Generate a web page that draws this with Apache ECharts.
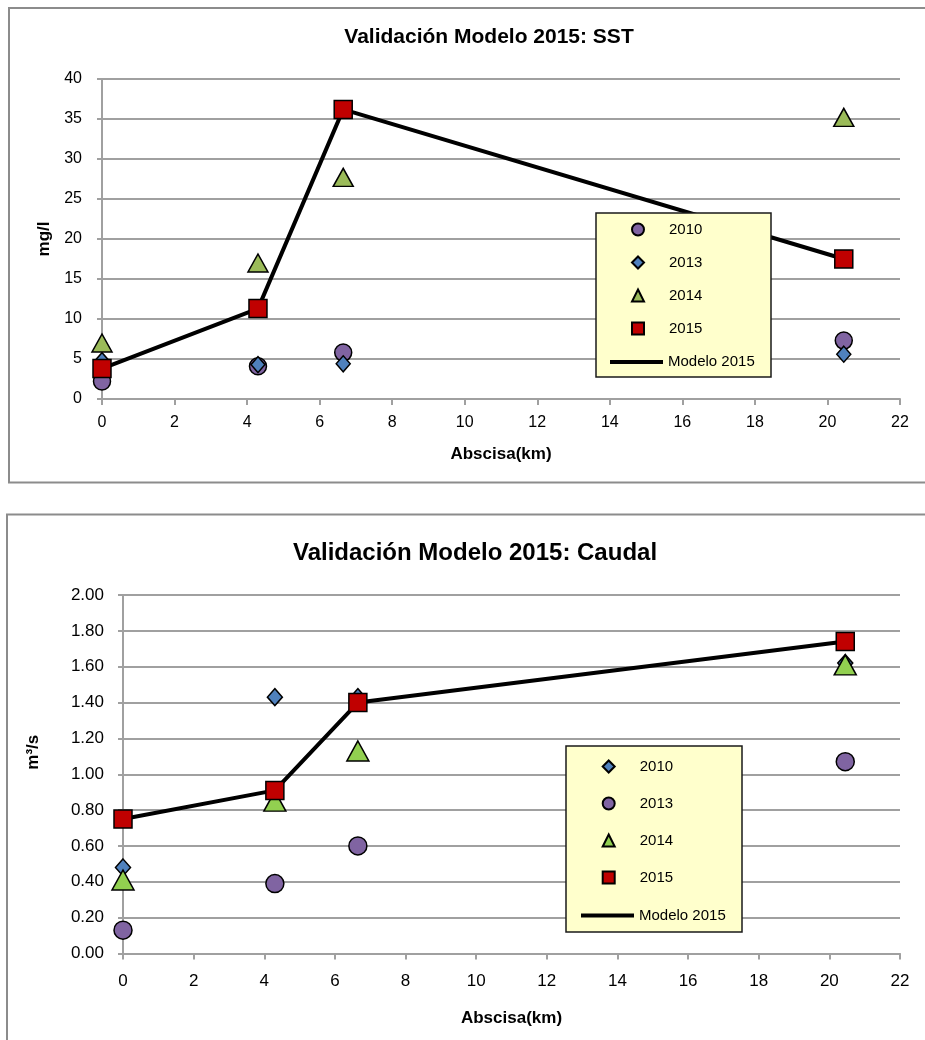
<!DOCTYPE html>
<html>
<head>
<meta charset="utf-8">
<title>Validación Modelo 2015</title>
<script src="https://cdn.jsdelivr.net/npm/echarts@6/dist/echarts.min.js"></script>
<style>
  html, body { margin: 0; padding: 0; background: #ffffff; }
  #chart { width: 925px; height: 1040px; }
</style>
</head>
<body>
<div id="chart"></div>
<script>
// Estaciones de muestreo (abscisa en km)
const abscisa = [0, 4.3, 6.65, 20.45];

// Sólidos suspendidos totales (mg/l)
const sst2010 = [2.2, 4.1, 5.8, 7.3];
const sst2013 = [4.8, 4.3, 4.4, 5.6];
const sst2014 = [7.0, 17.0, 27.7, 35.2];
const sst2015 = [3.8, 11.3, 36.2, 17.5];
const sstModelo = [3.8, 11.3, 36.2, 17.5];

// Caudal (m3/s)
const q2010 = [0.48, 1.43, 1.43, 1.62];
const q2013 = [0.13, 0.39, 0.60, 1.07];
const q2014 = [0.41, 0.85, 1.13, 1.61];
const q2015 = [0.75, 0.91, 1.40, 1.74];
const qModelo = [0.75, 0.91, 1.40, 1.74];

const FONT = "'Liberation Sans', Arial, sans-serif";
const GRID_GRAY = '#a0a0a0';

function pairs(xs, ys) { return xs.map((x, i) => [x, ys[i]]); }

function scatter(name, idx, data, symbol, size, color, z) {
  return {
    type: 'scatter', name: name, xAxisIndex: idx, yAxisIndex: idx,
    data: data, symbol: symbol, symbolSize: size, z: z,
    itemStyle: { color: color, borderColor: '#000', borderWidth: 1.5, opacity: 1 },
    emphasis: { disabled: true }
  };
}

function modelLine(idx, data) {
  return {
    type: 'line', name: 'Modelo 2015', xAxisIndex: idx, yAxisIndex: idx,
    data: data, symbol: 'none', z: 1, color: '#000',
    lineStyle: { color: '#000', width: 4 },
    emphasis: { disabled: true }
  };
}

function xAxis(idx, gridIndex, labelSize, labelMargin, nameGap) {
  return {
    type: 'value', gridIndex: gridIndex, min: 0, max: 22, interval: 2,
    name: 'Abscisa(km)', nameLocation: 'middle', nameGap: nameGap,
    nameTextStyle: { fontFamily: FONT, fontWeight: 'bold', fontSize: 17, color: '#000' },
    axisLine: { show: true, onZero: false, lineStyle: { color: GRID_GRAY, width: 2 } },
    axisTick: { show: true, length: 6, lineStyle: { color: GRID_GRAY, width: 2 } },
    axisLabel: { fontFamily: FONT, fontSize: labelSize, color: '#000', margin: labelMargin },
    splitLine: { show: false }
  };
}

function yAxis(gridIndex, min, max, interval, name, nameGap, labelSize, labelMargin, fmt, namePad) {
  return {
    type: 'value', gridIndex: gridIndex, min: min, max: max, interval: interval,
    name: name, nameLocation: 'middle', nameGap: nameGap, nameRotate: 90,
    nameTextStyle: { fontFamily: FONT, fontWeight: 'bold', fontSize: 17, color: '#000', padding: namePad },
    axisLine: { show: true, lineStyle: { color: GRID_GRAY, width: 2 } },
    axisTick: { show: true, length: 5, lineStyle: { color: GRID_GRAY, width: 2 } },
    axisLabel: { fontFamily: FONT, fontSize: labelSize, color: '#000', margin: labelMargin, formatter: fmt },
    splitLine: { show: true, lineStyle: { color: GRID_GRAY, width: 2 } }
  };
}

function markerLegend(names, left, top, gap, padLeft) {
  return {
    orient: 'vertical', left: left, top: top, padding: 0,
    itemWidth: 12, itemHeight: 12, itemGap: gap, z: 6,
    selectedMode: false,
    data: names,
    textStyle: { fontFamily: FONT, fontSize: 15, color: '#000', lineHeight: 12, padding: [0, 0, 0, padLeft] }
  };
}

function lineLegend(left, top) {
  return {
    orient: 'vertical', left: left, top: top, padding: 0,
    itemWidth: 53, itemHeight: 4, z: 6, selectedMode: false,
    data: [{ name: 'Modelo 2015', icon: 'rect' }],
    itemStyle: { color: '#000', borderWidth: 0 },
    textStyle: { fontFamily: FONT, fontSize: 15, color: '#000', lineHeight: 15 }
  };
}

const chart = echarts.init(document.getElementById('chart'), null, { renderer: 'canvas' });

chart.setOption({
  backgroundColor: '#ffffff',
  animation: false,
  title: [
    {
      text: 'Validación Modelo 2015: SST', left: 489, top: 27, textAlign: 'center', padding: 0,
      textStyle: { fontFamily: FONT, fontWeight: 'bold', fontSize: 21, color: '#000' }
    },
    {
      text: 'Validación Modelo 2015: Caudal', left: 475, top: 541, textAlign: 'center', padding: 0,
      textStyle: { fontFamily: FONT, fontWeight: 'bold', fontSize: 24, color: '#000' }
    }
  ],
  grid: [
    { left: 102, top: 79, width: 798, height: 320, containLabel: false },
    { left: 123, top: 595, width: 777, height: 358.5, containLabel: false }
  ],
  xAxis: [
    xAxis(0, 0, 16, 16, 47),
    xAxis(1, 1, 17, 19, 56)
  ],
  yAxis: [
    yAxis(0, 0, 40, 5, 'mg/l', 48, 16, 20, null, 0),
    yAxis(1, 0, 2, 0.2, 'm³/s', 81, 17, 19, v => v.toFixed(2), [0, 0, 0, 44])
  ],
  legend: [
    markerLegend(['2010', '2013', '2014', '2015'].map(n => ({ name: n })), 631, 222, 18, 20),
    lineLegend(610, 354.5),
    markerLegend(['2010 ', '2013 ', '2014 ', '2015 '].map(n => ({ name: n })), 601.7, 759, 22, 20),
    lineLegend(581, 908)
  ],
  graphic: [
    { type: 'rect', shape: { x: 9, y: 8, width: 930, height: 474.5 }, style: { fill: 'none', stroke: '#8c8c8c', lineWidth: 2 }, z: -1, silent: true },
    { type: 'rect', shape: { x: 7, y: 514.5, width: 930, height: 600 }, style: { fill: 'none', stroke: '#8c8c8c', lineWidth: 2 }, z: -1, silent: true },
    { type: 'rect', shape: { x: 596, y: 213, width: 175, height: 164 }, style: { fill: '#FFFFCC', stroke: '#1a1a1a', lineWidth: 1.5 }, z: 5, silent: true },
    { type: 'rect', shape: { x: 566, y: 746, width: 176, height: 186 }, style: { fill: '#FFFFCC', stroke: '#1a1a1a', lineWidth: 1.5 }, z: 5, silent: true }
  ],
  series: [
    // SST
    modelLine(0, pairs(abscisa, sstModelo)),
    scatter('2010', 0, pairs(abscisa, sst2010), 'circle', 17, '#8064A2', 2),
    scatter('2013', 0, pairs(abscisa, sst2013), 'diamond', [14, 16], '#4F81BD', 2),
    scatter('2014', 0, pairs(abscisa, sst2014), 'triangle', [20, 18], '#9BBB59', 2),
    scatter('2015', 0, pairs(abscisa, sst2015), 'rect', 18, '#C00000', 3),
    // Caudal
    modelLine(1, pairs(abscisa, qModelo)),
    scatter('2010 ', 1, pairs(abscisa, q2010), 'diamond', [15, 17], '#4F81BD', 2),
    scatter('2013 ', 1, pairs(abscisa, q2013), 'circle', 18, '#8064A2', 2),
    scatter('2014 ', 1, pairs(abscisa, q2014), 'triangle', [22, 20], '#92D050', 2),
    scatter('2015 ', 1, pairs(abscisa, q2015), 'rect', 18, '#C00000', 3)
  ]
});
</script>
</body>
</html>
